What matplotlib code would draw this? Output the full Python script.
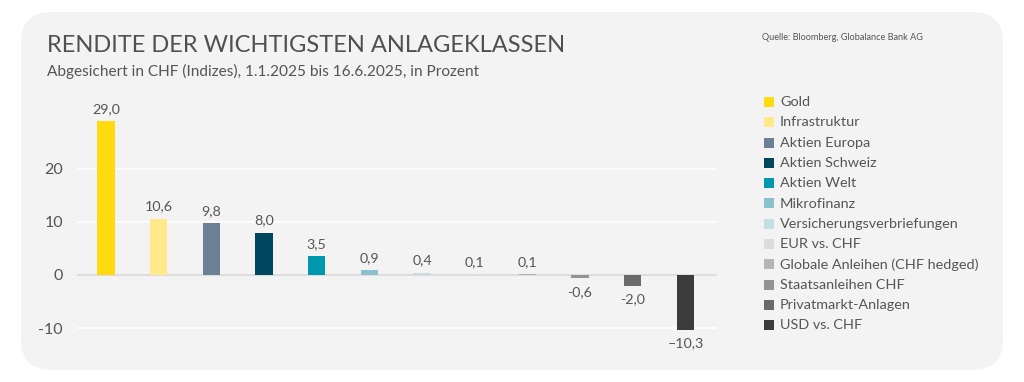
import matplotlib.pyplot as plt
from matplotlib.patches import FancyBboxPatch, Rectangle

plt.rcParams['font.family'] = ['Lato', 'DejaVu Sans']

categories = ["Gold", "Infrastruktur", "Aktien Europa", "Aktien Schweiz", "Aktien Welt",
              "Mikrofinanz", "Versicherungsverbriefungen", "EUR vs. CHF",
              "Globale Anleihen (CHF hedged)", "Staatsanleihen CHF",
              "Privatmarkt-Anlagen", "USD vs. CHF"]
values = [29.0, 10.6, 9.8, 8.0, 3.5, 0.9, 0.4, 0.1, 0.1, -0.6, -2.0, -10.3]
colors = ["#FFDA0F", "#FFE98A", "#6C7F96", "#00465E", "#0098AC", "#8BC1CF",
          "#C6DDE4", "#DCDCDC", "#B5B5B5", "#939393", "#6A6A6A", "#3B3B3B"]
yticks = [-10, 0, 10, 20]

W, H = 1024, 382
fig = plt.figure(figsize=(W / 100, H / 100), dpi=100)
fig.patch.set_facecolor("white")

# rounded grey panel
panel = FancyBboxPatch((21 / W, 12 / H), 982 / W, 358 / H,
                       boxstyle="round,pad=0,rounding_size=0.03",
                       transform=fig.transFigure, facecolor="#F3F3F3",
                       edgecolor="none", mutation_aspect=W / H, zorder=-5)
fig.patches.append(panel)

txt = "#555555"
fig.text(47 / W, 1 - 46 / H, "RENDITE DER WICHTIGSTEN ANLAGEKLASSEN", fontsize=17,
         color="#505050", va="center", ha="left")
fig.text(47 / W, 1 - 71 / H, "Abgesichert in CHF (Indizes), 1.1.2025 bis 16.6.2025, in Prozent",
         fontsize=11.1, color=txt, va="center", ha="left")
fig.text(762 / W, 1 - 38 / H, "Quelle: Bloomberg, Globalance Bank AG", fontsize=6.6,
         color=txt, va="center", ha="left")

# axes: zero at y=275, 53 px per 10
y0, ppu = 275, 5.3
ymin, ymax = -13, 32
ax_bottom = H - (y0 + (0 - ymin) * ppu)
ax_height = (ymax - ymin) * ppu
ax = fig.add_axes([77 / W, ax_bottom / H, 640 / W, ax_height / H])
ax.set_facecolor("none")
ax.set_zorder(2)
x = list(range(len(values)))
ax.bar(x, values, width=0.33, color=colors, zorder=3)
ax.set_xlim(-0.55, 11.6)
ax.set_ylim(ymin, ymax)
for t in yticks:
    ax.axhline(t, color="#DDDDDD" if t == 0 else "white", lw=1.5 if t == 0 else 1.2, zorder=1)
ax.set_yticks(yticks)
ax.set_yticklabels([str(t) if t >= 0 else "-" + str(-t) for t in yticks])
ax.tick_params(axis="y", length=0, pad=10, labelsize=11.5, labelcolor=txt)
ax.set_xticks([])
for s in ax.spines.values():
    s.set_visible(False)

for xi, v in zip(x, values):
    lab = f"{v:.1f}".replace(".", ",").replace("-", "\u2013" if v <= -10 else "-")
    if v >= 0:
        ax.text(xi, v + 1.2, lab, ha="center", va="bottom", fontsize=10.3, color=txt)
    else:
        ax.text(xi, v - 1.5, lab, ha="center", va="top", fontsize=10.3, color=txt)

# legend
ly0, ldy = 102, 20.3
for i, (c, name) in enumerate(zip(colors, categories)):
    yy = ly0 + i * ldy
    fig.patches.append(Rectangle((764 / W, 1 - (yy + 5) / H), 10 / W, 10 / H,
                                 transform=fig.transFigure, facecolor=c, edgecolor="none"))
    fig.text(780 / W, 1 - yy / H, name, fontsize=10.4, color=txt, va="center", ha="left")

fig.savefig("out.png", dpi=100, facecolor="white")
